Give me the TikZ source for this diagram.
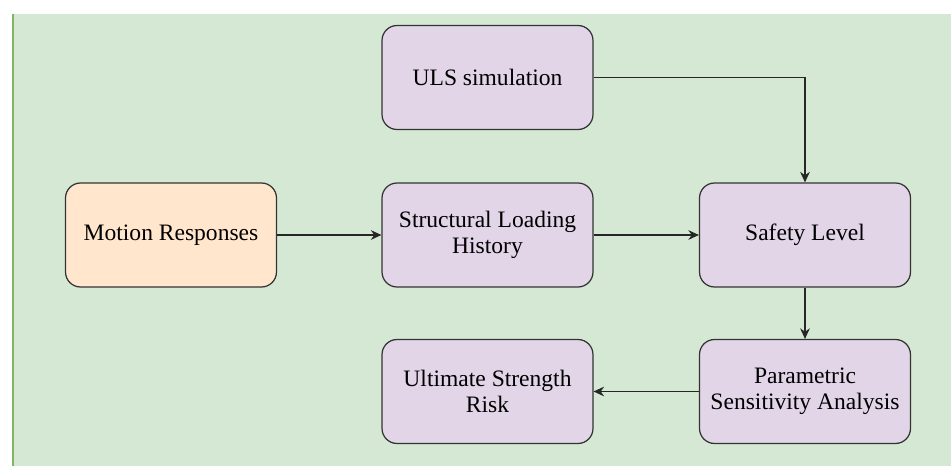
\documentclass[tikz,border=0pt]{standalone}
\usepackage{fontspec}
\setmainfont{Liberation Serif}
\usetikzlibrary{arrows.meta}
\definecolor{bggreen}{HTML}{D5E8D4}
\definecolor{bgline}{HTML}{82B366}
\definecolor{boxpurple}{HTML}{E1D5E7}
\definecolor{boxorange}{HTML}{FFE6CC}
\definecolor{edgegray}{HTML}{333333}
\begin{document}
\begin{tikzpicture}[x=0.02cm,y=-0.02cm,>={Stealth[length=6pt,width=5.5pt]},
    stage/.style={draw=edgegray,line width=0.7pt,fill=boxpurple,rounded corners=0.3cm,
      minimum width=4.22cm,minimum height=2.08cm,align=center,inner sep=2pt,
      font=\rmfamily\fontsize{13.4}{15}\selectfont},
    source/.style={stage,fill=boxorange},
    link/.style={->,draw=black!85,line width=0.75pt}]
    \def\colA{171}
    \def\colB{487.5}
    \def\colC{805}
    \useasboundingbox (0,0) rectangle (951,466);
    \fill[bggreen] (12,14) rectangle (951,466);
    \draw[bgline,line width=1.2pt] (12.6,14) -- (12.6,466);

    \node[stage] (uls) at (\colB,77.5) {ULS simulation};
    \node[source] (motion) at (\colA,235) {Motion Responses};
    \node[stage] (loading) at (\colB,235) {Structural Loading\\History};
    \node[stage] (safety) at (\colC,235) {Safety Level};
    \node[stage] (risk) at (\colB,391.5) {Ultimate Strength\\Risk};
    \node[stage] (sensitivity) at (\colC,391.5) {Parametric\\Sensitivity Analysis};

    \draw[link] (motion) -- (loading);
    \draw[link] (loading) -- (safety);
    \draw[link] (uls.east) -| (safety.north);
    \draw[link] (safety) -- (sensitivity);
    \draw[link] (sensitivity) -- (risk);
\end{tikzpicture}
\end{document}
